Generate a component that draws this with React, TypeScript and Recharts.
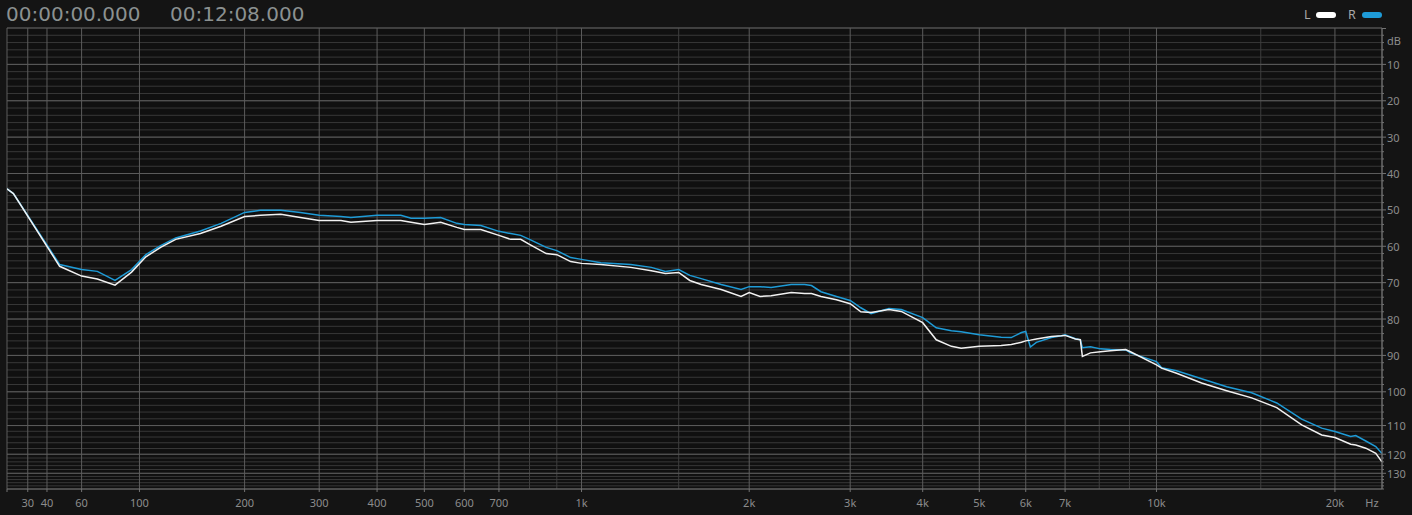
import React from 'react';
import { ComposedChart, Line, XAxis, YAxis, CartesianGrid, ReferenceLine } from 'recharts';

// ---- data ----
const freqs = [
  20, 23, 47, 60, 70, 82, 94, 105, 117, 130, 153, 174, 200, 219, 245, 272, 300, 335, 352, 400,
  448, 470, 500, 539, 580, 600, 646, 700, 737, 770, 800, 860, 900, 955, 1000, 1085, 1230, 1340, 1420, 1500,
  1570, 1645, 1785, 1935, 2000, 2090, 2185, 2370, 2500, 2570, 2670, 2840, 3000, 3130, 3260, 3500, 3675, 4000, 4220, 4480,
  4655, 5000, 5450, 5670, 5900, 6000, 6110, 6255, 6635, 6900, 7000, 7290, 7430, 7490, 7730, 8035, 8355, 8870, 9035, 10000,
  10200, 10815, 11920, 13140, 14480, 15960, 17580, 19000, 20000, 21260, 21680, 22540, 23430, 23980,
];
const leftDb = [
  44.2, 45.5, 65.5, 68.2, 69.0, 70.7, 67.1, 62.9, 60.3, 58.1, 56.5, 54.5, 51.8, 51.5, 51.2, 52.1, 52.9, 52.9, 53.4, 52.9,
  52.9, 53.4, 54.0, 53.4, 54.8, 55.4, 55.4, 57.0, 58.1, 58.1, 59.5, 62.0, 62.3, 64.2, 64.7, 65.0, 65.8, 66.7, 67.5, 67.2,
  69.4, 70.5, 71.9, 73.8, 72.7, 73.8, 73.6, 72.7, 73.0, 73.0, 73.8, 74.7, 75.8, 78.0, 78.2, 77.4, 77.9, 81.0, 85.7, 87.5,
  88.0, 87.5, 87.3, 87.0, 86.4, 86.0, 85.8, 85.5, 84.8, 84.6, 84.5, 85.5, 85.7, 90.3, 89.3, 89.0, 88.7, 88.4, 89.0, 92.6,
  93.5, 94.9, 97.6, 99.7, 101.8, 104.7, 109.8, 113.3, 114.2, 116.5, 116.8, 117.9, 119.7, 123.9,
];
const rightDb = [
  44.2, 45.5, 65.0, 66.4, 66.9, 69.4, 66.4, 62.3, 59.8, 57.7, 55.8, 53.7, 50.7, 50.1, 50.1, 50.7, 51.5, 51.8, 52.1, 51.5,
  51.5, 52.3, 52.3, 52.1, 53.7, 54.0, 54.3, 55.9, 56.5, 57.0, 58.1, 60.3, 61.2, 63.1, 63.6, 64.5, 65.0, 65.8, 66.9, 66.4,
  68.0, 68.9, 70.5, 71.9, 71.1, 71.1, 71.3, 70.5, 70.5, 70.8, 72.5, 73.8, 74.9, 76.9, 78.5, 77.1, 77.4, 79.6, 82.4, 83.2,
  83.5, 84.3, 85.0, 85.1, 83.7, 83.4, 87.7, 86.4, 85.1, 84.6, 84.3, 85.4, 85.7, 87.9, 87.6, 88.2, 88.4, 88.5, 89.3, 91.7,
  93.4, 94.2, 96.4, 98.6, 100.3, 103.3, 108.1, 110.9, 112.1, 113.8, 113.5, 115.4, 117.3, 119.7,
];

const freqTickValues = [20, 30, 40, 60, 100, 200, 300, 400, 500, 600, 700, 800, 900, 1000, 1500, 2000, 3000, 4000, 5000, 6000, 7000, 8000, 9000, 10000, 15000, 20000, 24000];
const freqTickLabels = ['', '30', '40', '60', '100', '200', '300', '400', '500', '600', '700', '', '', '1k', '', '2k', '3k', '4k', '5k', '6k', '7k', '', '', '10k', '', '20k', 'Hz'];

const dbMajor = [0, 10, 20, 30, 40, 50, 60, 70, 80, 90, 100, 110, 120, 130];
const dbMajorLabels = ['dB', '10', '20', '30', '40', '50', '60', '70', '80', '90', '100', '110', '120', '130'];
const dbMinorStep = 2;
const dbBottom = 140;

const timeLabels = ['00:00:00.000', '00:12:08.000'];
const legendItems = ['L', 'R'];

// ---- axis scale definitions (analyzer-style warped axes) ----
const F_OFFSET = 100;
const toU = (f: number) => Math.log10(f + F_OFFSET);
const DB_ANCHORS = [0, 100, 110, 120, 130, 140];
const D_ANCHORS = [0, 100, 109.28, 117.16, 122.4, 126.72];
const toD = (db: number) => {
  for (let i = 1; i < DB_ANCHORS.length; i++) {
    if (db <= DB_ANCHORS[i] || i === DB_ANCHORS.length - 1) {
      const t = (db - DB_ANCHORS[i - 1]) / (DB_ANCHORS[i] - DB_ANCHORS[i - 1]);
      return D_ANCHORS[i - 1] + t * (D_ANCHORS[i] - D_ANCHORS[i - 1]);
    }
  }
  return db;
};

const data = freqs.map((f, i) => ({ u: toU(f), l: toD(leftDb[i]), r: toD(rightDb[i]) }));

const dbLevels: number[] = [];
for (let v = 0; v <= dbBottom; v += dbMinorStep) dbLevels.push(v);

const BG = '#141414';
const PLOT_BG = '#101010';
const MINOR = '#383838';
const MINOR_V = '#3e3e3e';
const MAJOR = '#5c5c5c';
const AXIS = '#727272';
const TEXT = '#8c8c8c';
const FONT = '"Noto Sans", "DejaVu Sans", sans-serif';
const HEADER_FONT = '"DejaVu Sans", sans-serif';
const WHITE = '#f2f2f2';
const BLUE = '#1e9bd7';

const XTick = (props: any) => {
  const { x, y, payload } = props;
  const idx = freqTickValues.findIndex((f) => Math.abs(toU(f) - payload.value) < 1e-9);
  const lab = idx >= 0 ? freqTickLabels[idx] : '';
  const hasMark = idx === 0 || (lab !== '' && lab !== 'Hz');
  return (
    <g>
      {hasMark && <line x1={x} x2={x} y1={y} y2={y + 3} stroke={AXIS} />}
      {lab !== '' && (
        <text x={lab === 'Hz' ? x - 10 : x} y={y + 13.5} textAnchor="middle" dominantBaseline="central" fill={TEXT} fontSize={11} fontFamily={FONT}>
          {lab}
        </text>
      )}
    </g>
  );
};

const YTick = (props: any) => {
  const { x, y, payload } = props;
  const idx = dbMajor.findIndex((d) => Math.abs(toD(d) - payload.value) < 1e-9);
  if (idx === -1) {
    return <line x1={x} x2={x + 2} y1={y} y2={y} stroke={AXIS} />;
  }
  const lab = dbMajorLabels[idx];
  if (lab === 'dB') {
    return (
      <g>
        <line x1={x} x2={x + 4} y1={y + 0.5} y2={y + 0.5} stroke={AXIS} />
        <text x={x + 5} y={y + 12} dominantBaseline="central" fill={TEXT} fontSize={11} fontFamily={FONT}>dB</text>
      </g>
    );
  }
  return (
    <g>
      <line x1={x} x2={x + 4} y1={y} y2={y} stroke={AXIS} />
      <text x={x + 5} y={y} dominantBaseline="central" fill={TEXT} fontSize={11} fontFamily={FONT}>{lab}</text>
    </g>
  );
};

export default function App() {
  return (
    <div style={{ position: 'fixed', left: 0, top: 0, width: 1412, height: 515, background: BG, overflow: 'hidden' }}>
      <ComposedChart width={1412} height={515} data={data} margin={{ top: 28, right: 0, bottom: 0, left: 7 }}>
        <CartesianGrid stroke={MINOR} fill={PLOT_BG} vertical={false} horizontal={true} />
        <XAxis
          type="number"
          dataKey="u"
          domain={[toU(20), toU(24000)]}
          ticks={freqTickValues.map(toU)}
          interval={0}
          tick={<XTick />}
          tickLine={false}
          tickSize={0}
          tickMargin={0}
          axisLine={{ stroke: AXIS }}
          height={26}
          allowDataOverflow
        />
        <YAxis
          orientation="right"
          type="number"
          domain={[0, toD(dbBottom)]}
          reversed
          ticks={dbLevels.map(toD)}
          interval={0}
          tick={<YTick />}
          tickLine={false}
          tickSize={0}
          tickMargin={0}
          axisLine={{ stroke: AXIS }}
          width={30}
          allowDataOverflow
        />
        {freqTickValues.map((f, i) => (
          <ReferenceLine key={'vx' + f} x={toU(f)} stroke={freqTickLabels[i] === '' && i !== 0 ? MINOR_V : MAJOR} strokeWidth={1} />
        ))}
        {dbMajor.map((d) => (
          <ReferenceLine key={'hy' + d} y={toD(d)} stroke={MAJOR} strokeWidth={1} />
        ))}
        <Line type="linear" dataKey="r" stroke={BLUE} strokeWidth={1.5} dot={false} isAnimationActive={false} />
        <Line type="linear" dataKey="l" stroke={WHITE} strokeWidth={1.5} dot={false} isAnimationActive={false} />
      </ComposedChart>
      <svg width={1412} height={515} style={{ position: 'absolute', left: 0, top: 0, pointerEvents: 'none' }}>
        <text x={6} y={20.5} fill="#8b9191" fontSize={20} fontFamily={HEADER_FONT}>{timeLabels[0]}</text>
        <text x={170} y={20.5} fill="#8b9191" fontSize={20} fontFamily={HEADER_FONT}>{timeLabels[1]}</text>
        <text x={1304} y={19} fill="#a8a8a8" fontSize={12.5} fontFamily={FONT}>{legendItems[0]}</text>
        <rect x={1316} y={12} width={20} height={6} rx={3} fill="#ffffff" />
        <text x={1348} y={19} fill="#a8a8a8" fontSize={12.5} fontFamily={FONT}>{legendItems[1]}</text>
        <rect x={1362} y={12} width={20} height={6} rx={3} fill={BLUE} />
      </svg>
    </div>
  );
}
